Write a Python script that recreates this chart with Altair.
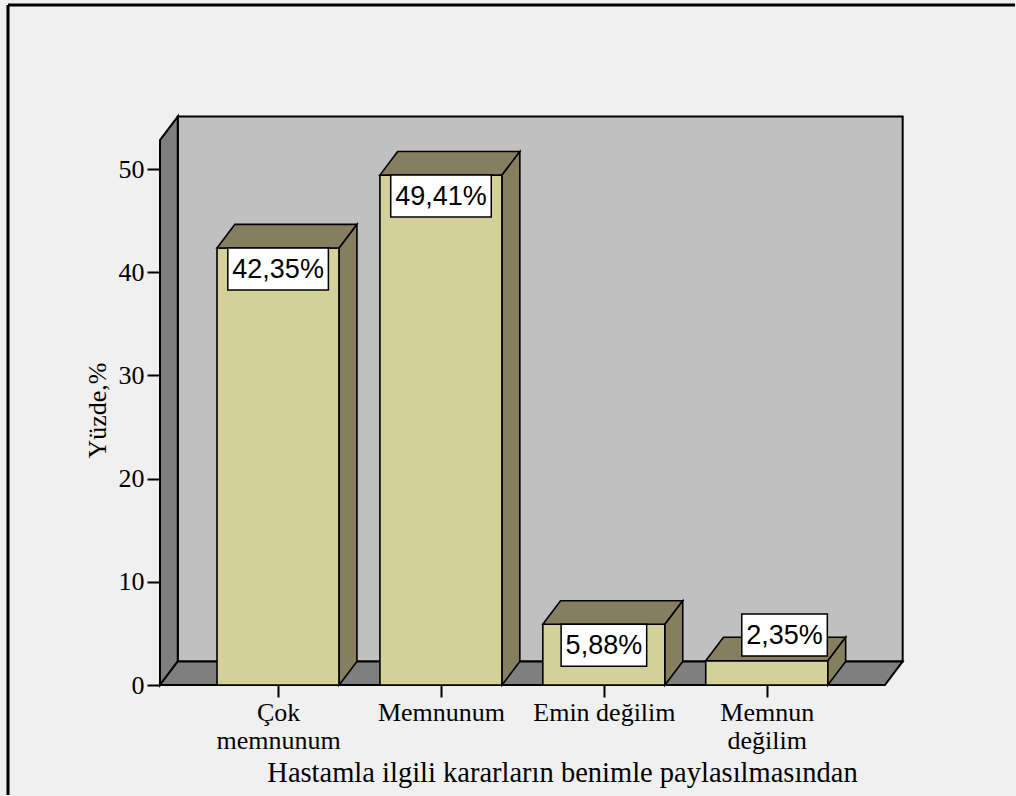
import json
import altair as alt
import pandas as pd

# ---- data ----
categories = [["Çok", "memnunum"], ["Memnunum"], ["Emin değilim"], ["Memnun", "değilim"]]
values = [42.35, 49.41, 5.88, 2.35]
value_labels = ["42,35%", "49,41%", "5,88%", "2,35%"]
y_ticks = [0, 10, 20, 30, 40, 50]
x_title = "Hastamla ilgili kararların benimle paylasılmasından"
y_title = "Yüzde,%"

# ---- layout constants ----
PLOT_W, PLOT_H = 1007, 790
X_UNIT = 162.9      # px per category step
Y_UNIT = 10.32      # px per percent
X0_PX = 152         # zero of x from plot left
Y0_PX = 680         # zero of y from plot top
MARGIN, BAR_W, GAP = 0.35, 0.75, 0.25
DX = 0.109          # depth offset (x units)
DY = 2.28           # depth offset (y units)
WALL_TOP = 52.8
BOX_H = 42 / Y_UNIT
VAL_FS = 27

n = len(values)
step = BAR_W + GAP
centers = [MARGIN + BAR_W / 2 + i * step for i in range(n)]
floor_end = 2 * MARGIN + n * BAR_W + (n - 1) * GAP

xmin, xmax = -X0_PX / X_UNIT, (PLOT_W - X0_PX) / X_UNIT
ymin, ymax = -(PLOT_H - Y0_PX) / Y_UNIT, Y0_PX / Y_UNIT
xs = alt.Scale(domain=[xmin, xmax], nice=False, zero=False)
ys = alt.Scale(domain=[ymin, ymax], nice=False, zero=False)

SERIF = "Liberation Serif"
SANS = "Liberation Sans"

label_expr = (json.dumps(categories, ensure_ascii=False)
              + f"[round((datum.value - {centers[0]}) / {step})]")

x_axis = alt.Axis(values=centers, labelExpr=label_expr, orient="bottom",
                  offset=-(PLOT_H - Y0_PX), domain=False, grid=False,
                  tickSize=12, tickWidth=2, tickColor="black",
                  labelFont=SERIF, labelFontSize=26, labelColor="black",
                  labelPadding=2, labelLineHeight=28, labelFlush=False,
                  labelOverlap=False, title=x_title, titleFont=SERIF,
                  titleFontSize=28.5, titleFontWeight="normal", titleColor="black",
                  titleX=554, titleY=96, titleBaseline="alphabetic", titleAlign="center")
y_axis = alt.Axis(values=y_ticks, format="d", orient="left", offset=-X0_PX,
                  domain=False, grid=False, tickSize=13, tickWidth=2,
                  tickColor="black", labelFont=SERIF, labelFontSize=26,
                  labelColor="black", labelPadding=3, labelFlush=False,
                  labelOverlap=False, title=y_title, titleFont=SERIF,
                  titleFontSize=26, titleFontWeight="normal", titleColor="black",
                  titleAngle=270, titleX=-63, titleY=405, titleBaseline="middle",
                  titleAlign="center")

X = alt.X("x:Q", scale=xs, axis=x_axis)
Y = alt.Y("y:Q", scale=ys, axis=y_axis)
X2 = alt.X2("x2:Q")
Y2 = alt.Y2("y2:Q")

GRAY = "#7f7f7f"
WALL = "#c0c0c0"
FRONT = "#d4d09a"
DARK = "#857f5f"

# back wall
back = alt.Chart(pd.DataFrame([{"x": DX, "x2": floor_end + DX, "y": DY, "y2": WALL_TOP + DY}])
                 ).mark_rect(fill=WALL, stroke="black", strokeWidth=2).encode(X, X2, Y, Y2)

# left wall
left = alt.Chart(pd.DataFrame([{"x": 0, "y": 0, "y2": WALL_TOP},
                               {"x": DX, "y": DY, "y2": WALL_TOP + DY}])
                 ).mark_area(orient="vertical", fill=GRAY, stroke="black", strokeWidth=2
                             ).encode(X, Y, Y2)

# floor
floor = alt.Chart(pd.DataFrame([{"y": 0, "x": 0, "x2": floor_end},
                                {"y": DY, "x": DX, "x2": floor_end + DX}])
                  ).mark_area(orient="horizontal", fill=GRAY, stroke="black", strokeWidth=2
                              ).encode(Y, X, X2)

front_rows, top_rows, side_rows, box_rows = [], [], [], []
char_w = {",": 0.278, "%": 0.889}
for i, (c, v, lab) in enumerate(zip(centers, values, value_labels)):
    L, R = c - BAR_W / 2, c + BAR_W / 2
    front_rows.append({"x": L, "x2": R, "y": 0, "y2": v})
    top_rows += [{"id": i, "y": v, "x": L, "x2": R},
                 {"id": i, "y": v + DY, "x": L + DX, "x2": R + DX}]
    side_rows += [{"id": i, "x": R, "y": 0, "y2": v},
                  {"id": i, "x": R + DX, "y": DY, "y2": v + DY}]
    tw = sum(char_w.get(ch, 0.556) for ch in lab) * VAL_FS + 9
    w = tw / X_UNIT
    if v > BOX_H + 1:
        cx, top = c, v
    else:
        cx, top = c + DX, v + 0.45 + BOX_H
    box_rows.append({"x": cx - w / 2, "x2": cx + w / 2, "y": top - BOX_H, "y2": top,
                     "cx": cx, "cy": top - BOX_H / 2, "label": lab})

fronts = alt.Chart(pd.DataFrame(front_rows)).mark_rect(
    fill=FRONT, stroke="black", strokeWidth=1.6).encode(X, X2, Y, Y2)
tops = alt.Chart(pd.DataFrame(top_rows)).mark_area(
    orient="horizontal", fill=DARK, stroke="black", strokeWidth=1.6
).encode(Y, X, X2, detail="id:N")
sides = alt.Chart(pd.DataFrame(side_rows)).mark_area(
    orient="vertical", fill=DARK, stroke="black", strokeWidth=1.6
).encode(X, Y, Y2, detail="id:N")

boxdf = pd.DataFrame(box_rows)
boxes = alt.Chart(boxdf).mark_rect(fill="white", stroke="black", strokeWidth=1.5
                                   ).encode(X, X2, Y, Y2)
texts = alt.Chart(boxdf).mark_text(font=SANS, fontSize=VAL_FS, color="black",
                                   baseline="middle", align="center", dy=1
                                   ).encode(x=alt.X("cx:Q", scale=xs, axis=x_axis),
                                            y=alt.Y("cy:Q", scale=ys, axis=y_axis),
                                            text="label:N")

# outer frame (left and top edges)
frame = pd.DataFrame([{"x": xmin, "x2": xmin, "y": ymin, "y2": ymax},
                      {"x": xmin, "x2": xmax, "y": ymax, "y2": ymax}])
frame_l = alt.Chart(frame).mark_rule(color="black", strokeWidth=3).encode(X, X2, Y, Y2)

chart = alt.layer(back, left, floor, fronts, tops, sides, boxes, texts, frame_l).properties(
    width=PLOT_W, height=PLOT_H,
    padding={"left": 8, "top": 5, "right": 1, "bottom": 1},
    autosize=alt.AutoSizeParams(type="none"),
    background="#f0f0f0",
).configure_view(stroke="transparent", fill="#f0f0f0")

chart.save("out.html", embed_options={"renderer": "svg", "actions": False})
